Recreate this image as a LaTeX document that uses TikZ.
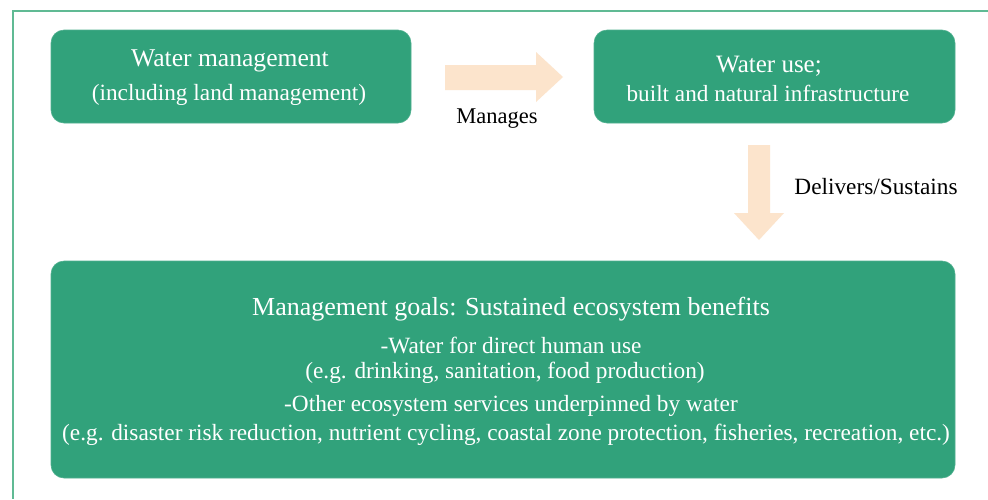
\documentclass[tikz,border=0pt]{standalone}
\usepackage{fontspec}
\setmainfont{Liberation Serif}
\definecolor{boxgreen}{RGB}{49,162,123}
\definecolor{framegreen}{RGB}{96,186,148}
\definecolor{peach}{RGB}{252,228,204}
\tikzset{
  gbox/.style={draw=boxgreen!85!white, line width=0.6pt, fill=boxgreen, rounded corners=13pt, text=white, inner sep=0pt},
  fatarrow/.style={fill=peach, draw=none},
  wtxt/.style={text=white, inner sep=0pt},
  lbl/.style={text=black, inner sep=0pt}
}
\begin{document}
\begin{tikzpicture}[x=1pt,y=-1pt]
\useasboundingbox (0,0) rectangle (988,499);
\fill[white] (0,0) rectangle (988,499);
% frame
\draw[framegreen, line width=1.6pt] (988,11) -- (13,11) -- (13,499);
% boxes
\draw[gbox] (51,30) rectangle (411,123);
\node[wtxt, font=\fontsize{25.6}{30}\selectfont] (t1a) at (230,61) {Water management};
\node[wtxt, font=\fontsize{23.3}{28}\selectfont] (t1b) at (229,95) {(including land management)};
\draw[gbox] (594,30) rectangle (955,123);
\node[wtxt, font=\fontsize{25}{30}\selectfont] (t2a) at (769,66) {Water use;};
\node[wtxt, font=\fontsize{23.2}{28}\selectfont] (t2b) at (768,93) {built and natural infrastructure};
\draw[gbox] (51,261) rectangle (955,478);
\node[wtxt, font=\fontsize{26}{30}\selectfont] (t3a) at (511,309) {Management goals: Sustained ecosystem benefits};
\node[wtxt, font=\fontsize{23.3}{28}\selectfont] (t3b) at (511,345) {-Water for direct human use};
\node[wtxt, font=\fontsize{23.3}{28}\selectfont] (t3c) at (505,373) {(e.g. drinking, sanitation, food production)};
\node[wtxt, font=\fontsize{23.3}{28}\selectfont] (t3d) at (511,406) {-Other ecosystem services underpinned by water};
\node[wtxt, font=\fontsize{23.3}{28}\selectfont] (t3e) at (506,435) {(e.g. disaster risk reduction, nutrient cycling, coastal zone protection, fisheries, recreation, etc.)};
% arrows
\fill[fatarrow] (445,65) -- (536,65) -- (536,52) -- (563,77) -- (536,102) -- (536,90) -- (445,90) -- cycle;
\fill[fatarrow] (748,145) -- (770,145) -- (770,213) -- (784,213) -- (759,240) -- (734,213) -- (748,213) -- cycle;
% labels
\node[lbl, font=\fontsize{22.5}{26}\selectfont] (m) at (497,119) {Manages};
\node[lbl, font=\fontsize{23.3}{28}\selectfont] (d) at (876,187) {Delivers/Sustains};
\end{tikzpicture}
\end{document}
